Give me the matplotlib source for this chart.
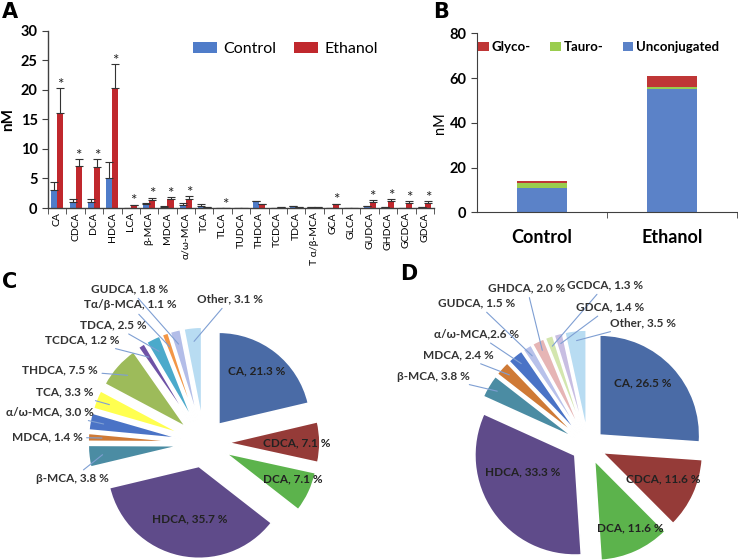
import numpy as np
import matplotlib
matplotlib.use('Agg')
import matplotlib.pyplot as plt

plt.rcParams['font.family'] = ['Lato', 'DejaVu Sans']

W, H = 738, 560

# ---- panel A data (nM) ----
acids = ['CA', 'CDCA', 'DCA', 'HDCA', 'LCA', 'β-MCA', 'MDCA', 'α/ω-MCA', 'TCA', 'TLCA',
         'TUDCA', 'THDCA', 'TCDCA', 'TDCA', 'T α/β-MCA', 'GCA', 'GLCA', 'GUDCA',
         'GHDCA', 'GCDCA', 'GDCA']
control = [3.0, 1.0, 1.0, 5.0, 0.0, 0.7, 0.2, 0.5, 0.4, 0.0, 0.0, 1.15, 0.05, 0.3, 0.15,
           0.0, 0.0, 0.3, 0.1, 0.05, 0.1]
control_err = [1.4, 0.6, 0.6, 2.7, 0.0, 0.2, 0.2, 0.35, 0.25, 0.0, 0.0, 0.1, 0.03, 0.05, 0.04,
               0.0, 0.0, 0.05, 0.05, 0.03, 0.05]
ethanol = [16.0, 7.1, 6.9, 20.3, 0.45, 1.35, 1.45, 1.6, 0.15, 0.02, 0.0, 0.65, 0.15, 0.2, 0.1,
           0.6, 0.0, 0.95, 1.25, 0.9, 0.8]
ethanol_err = [4.3, 1.2, 1.4, 4.1, 0.1, 0.4, 0.45, 0.4, 0.05, 0.0, 0.0, 0.1, 0.03, 0.05, 0.03,
               0.15, 0.0, 0.4, 0.3, 0.3, 0.3]
signif = [1, 1, 1, 1, 1, 1, 1, 1, 0, 1, 0, 0, 0, 0, 0, 1, 0, 1, 1, 1, 1]

# ---- panel B data (nM) ----
groups = ['Control', 'Ethanol']
unconjugated = [10.8, 55.0]
tauro = [2.5, 0.9]
glyco = [0.7, 4.8]

# ---- panel C (control, %) ----
c_names = ['CA', 'CDCA', 'DCA', 'HDCA', 'β-MCA', 'MDCA', 'α/ω-MCA', 'TCA', 'THDCA',
           'TCDCA', 'TDCA', 'Tα/β-MCA', 'GUDCA', 'Other']
c_pct = [21.3, 7.1, 7.1, 35.7, 3.8, 1.4, 3.0, 3.3, 7.5, 1.2, 2.5, 1.1, 1.8, 3.1]

# ---- panel D (ethanol, %) ----
d_names = ['CA', 'CDCA', 'DCA', 'HDCA', 'β-MCA', 'MDCA', 'α/ω-MCA', 'GUDCA', 'GHDCA',
           'GCDCA', 'GDCA', 'Other']
d_pct = [26.5, 11.6, 11.6, 33.3, 3.8, 2.4, 2.6, 1.5, 2.0, 1.3, 1.4, 3.5]

blue = '#4F7CC9'
red = '#C0282D'
axis_col = '#404040'

fig = plt.figure(figsize=(W / 100, H / 100), dpi=100)


def px_axes(x0, y0, x1, y1):
    return fig.add_axes([x0 / W, 1 - y1 / H, (x1 - x0) / W, (y1 - y0) / H])


# ================= A =================
axA = px_axes(48, 30.7, 434, 208)
x = np.arange(len(acids))
bw = 0.33
ekw = dict(ecolor='#333333', elinewidth=0.8, capsize=2.6, capthick=0.8)
axA.bar(x - bw / 2, control, bw, color=blue, yerr=[np.zeros(len(x)), control_err], error_kw=ekw)
axA.bar(x + bw / 2, ethanol, bw, color=red, yerr=[np.zeros(len(x)), ethanol_err], error_kw=ekw)
for i in range(len(x)):
    if signif[i]:
        axA.text(x[i] + bw / 2, ethanol[i] + ethanol_err[i] + 0.55, '*', ha='center',
                 va='center', fontsize=11, color='#222222')
axA.set_xlim(-0.5, len(acids) - 0.5)
axA.set_ylim(0, 30)
axA.set_yticks(range(0, 31, 5))
axA.set_yticklabels([str(v) for v in range(0, 31, 5)], fontsize=10.5, fontweight='bold')
axA.set_xticks(x)
axA.set_xticklabels(acids, rotation=90, fontsize=7.5)
axA.set_xticks(np.arange(-0.5, len(acids), 1.0), minor=True)
axA.tick_params(axis='x', which='major', length=0, pad=3)
axA.tick_params(axis='x', which='minor', length=4, direction='out', color=axis_col)
axA.tick_params(axis='y', length=4, direction='out', color=axis_col)
for s in ['top', 'right']:
    axA.spines[s].set_visible(False)
for s in ['left', 'bottom']:
    axA.spines[s].set_color(axis_col)
    axA.spines[s].set_linewidth(1.0)
axA.set_ylabel('nM', fontsize=11, fontweight='bold', labelpad=4)
axA.legend(['Control', 'Ethanol'], loc='center left', bbox_to_anchor=(0.376, 0.897),
           ncol=2, frameon=False, fontsize=11.5, handlelength=1.5, handleheight=0.65,
           columnspacing=1.1, handletextpad=0.4, borderpad=0, borderaxespad=0)

# ================= B =================
axB = px_axes(477, 33.3, 737, 212.3)
xb = np.arange(len(groups))
bwB = 0.39
axB.bar(xb, unconjugated, bwB, color='#5B82C8', label='Unconjugated')
axB.bar(xb, tauro, bwB, bottom=unconjugated, color='#9ACD4E', label='Tauro-')
axB.bar(xb, glyco, bwB, bottom=np.array(unconjugated) + np.array(tauro), color='#BF3636',
        label='Glyco-')
axB.set_xlim(-0.5, 1.5)
axB.set_ylim(0, 80)
axB.set_yticks(range(0, 81, 20))
axB.set_yticklabels([str(v) for v in range(0, 81, 20)], fontsize=10.5, fontweight='bold')
axB.set_xticks(xb)
axB.set_xticklabels(groups, fontsize=13, fontweight='bold')
axB.set_xticks([0.5, 1.5], minor=True)
axB.tick_params(axis='x', which='major', length=0, pad=12)
axB.tick_params(axis='x', which='minor', length=4, direction='out', color=axis_col)
axB.tick_params(axis='y', length=4, direction='out', color=axis_col)
for s in ['top', 'right']:
    axB.spines[s].set_visible(False)
for s in ['left', 'bottom']:
    axB.spines[s].set_color(axis_col)
axB.set_ylabel('nM', fontsize=10.5, labelpad=2)
h, l = axB.get_legend_handles_labels()
axB.legend(h[::-1], l[::-1], loc='center left', bbox_to_anchor=(0.004, 0.923), ncol=3,
           frameon=False, prop=dict(weight='bold', size=9.5),
           handlelength=0.8, handleheight=0.7, handletextpad=0.2, columnspacing=1.5,
           borderpad=0, borderaxespad=0)

# ================= pies =================
c_colors = ['#4A6BA6', '#953B38', '#5CB34C', '#5F4B8A', '#4B8CA3', '#CF7A36', '#4A73C6',
            '#FFFF50', '#9DBB5A', '#6E52A6', '#4BAACB', '#F39646', '#B3BDE8', '#B8DCF2']
d_colors = ['#4A6BA6', '#953B38', '#5CB34C', '#5F4B8A', '#4B8CA3', '#CF7A36', '#4A73C6',
            '#B8C1EA', '#E6B5B5', '#D3E6AE', '#C8BEE2', '#B8DCF2']

# label positions in pixels (layout); the first four sit inside their slices
c_pos = [(257, 371), (297, 443), (293, 479), (190, 519), (72, 479), (47, 437), (50, 412),
         (65, 392), (60, 370), (82, 340), (113, 325), (130, 305), (130, 289), (230, 299)]
d_pos = [(643, 383), (663, 479), (630, 528), (523, 472), (433, 376), (458, 355), (477, 334),
         (477, 303), (527, 288), (605, 285), (610, 307), (643, 323)]
d_text = ['CA, 26.5 %', 'CDCA, 11.6 %', 'DCA, 11.6 %', 'HDCA, 33.3 %', 'β-MCA, 3.8 %',
          'MDCA, 2.4 %', 'α/ω-MCA,2.6 %', 'GUDCA, 1.5 %', 'GHDCA, 2.0 %', 'GCDCA, 1.3 %',
          'GDCA, 1.4 %', 'Other, 3.5 %']
c_text = ['%s, %.1f %%' % (n, p) for n, p in zip(c_names, c_pct)]


def draw_pie(box, cx, cy, r, values, colors, texts, pos, explode, reach):
    ax = px_axes(*box)
    wedges, _ = ax.pie(values, colors=colors, startangle=90, counterclock=False,
                       explode=[explode] * len(values),
                       wedgeprops=dict(edgecolor='white', linewidth=1.2))
    x0, y0, x1, y1 = box
    ax.set_xlim((x0 - cx) / r, (x1 - cx) / r)
    ax.set_ylim((cy - y1) / r, (cy - y0) / r)
    ax.set_aspect('auto')
    for i, (w, t, (px, py)) in enumerate(zip(wedges, texts, pos)):
        tx, ty = (px - cx) / r, (cy - py) / r
        if i < 4:
            ax.text(tx, ty, t, ha='center', va='center', fontsize=8.5, fontweight='bold',
                    color='#222222')
        else:
            ang = np.deg2rad((w.theta1 + w.theta2) / 2)
            tgt = (w.center[0] + reach * np.cos(ang), w.center[1] + reach * np.sin(ang))
            ax.annotate(t, xy=tgt, xytext=(tx, ty), ha='center', va='center', fontsize=8.5,
                        fontweight='bold', color='#333333',
                        arrowprops=dict(arrowstyle='-', color='#7F9FD3', lw=0.8,
                                        shrinkA=1, shrinkB=0))
    return ax


draw_pie((0, 262, 398, 560), 204, 443, 92, c_pct, c_colors, c_text, c_pos, 0.26, 0.85)
draw_pie((398, 262, 738, 560), 588, 446, 100, d_pct, d_colors, d_text, d_pos, 0.16, 0.9)

# panel letters
for letter, (px, py) in zip('ABCD', [(2, 2), (433, 2), (2, 272), (400, 264)]):
    fig.text(px / W, 1 - py / H, letter, fontsize=15, fontweight='bold', ha='left', va='top',
             family='DejaVu Sans')

fig.savefig('out.png', dpi=100)
